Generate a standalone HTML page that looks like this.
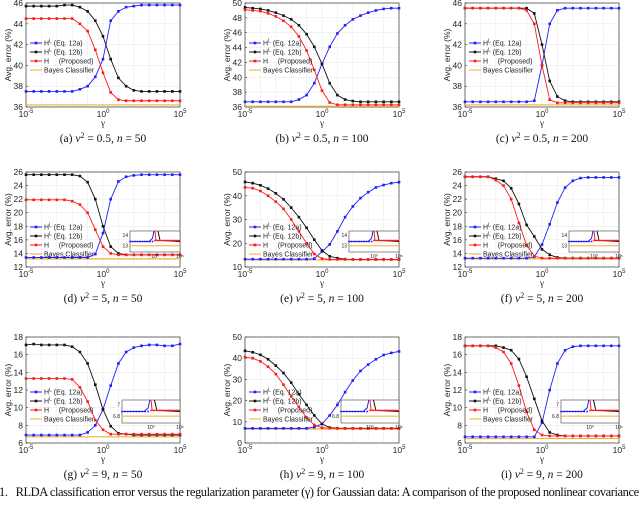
<!DOCTYPE html>
<html><head><meta charset="utf-8"><style>
body{margin:0;width:640px;height:500px;background:#fff;overflow:hidden}
</style></head><body>
<svg id="fig" width="640" height="500" font-family="Liberation Sans, sans-serif" xmlns="http://www.w3.org/2000/svg"></svg>
<script>
const gammaExp=[-5,-4.5,-4,-3.5,-3,-2.5,-2,-1.5,-1,-0.5,0,0.5,1,1.5,2,2.5,3,3.5,4,4.5,5];
const panelNames=["a","b","c","d","e","f","g","h","i"];
const captions=["0.5, n = 50","0.5, n = 100","0.5, n = 200","5, n = 50","5, n = 100","5, n = 200","9, n = 50","9, n = 100","9, n = 200"];
const yMins=[36,36,36,12,10,12,6,0,6];
const yMaxs=[46,50,46,26,50,26,18,50,18];
const yTickSteps=[2,2,2,2,10,2,2,10,2];
const blueA=[37.5,37.5,37.5,37.5,37.5,37.5,37.5,37.7,38.0,38.9,40.6,44.3,45.2,45.6,45.7,45.8,45.8,45.8,45.8,45.8,45.8];
const blackA=[45.7,45.7,45.7,45.7,45.7,45.8,45.8,45.6,45.2,44.3,42.8,40.6,38.8,38.0,37.6,37.5,37.5,37.5,37.5,37.5,37.5];
const redA=[44.5,44.5,44.5,44.5,44.5,44.5,44.5,44.0,43.3,41.5,39.3,37.4,36.7,36.6,36.6,36.6,36.6,36.6,36.6,36.6,36.6];
const blueB=[36.7,36.7,36.7,36.7,36.7,36.7,36.7,37.0,37.6,39.2,41.8,44.1,45.9,47.0,47.8,48.3,48.7,49.0,49.2,49.3,49.3];
const blackB=[49.4,49.3,49.2,49.0,48.7,48.3,47.8,47.0,45.8,44.1,41.8,39.2,37.6,37.0,36.8,36.7,36.7,36.7,36.7,36.7,36.7];
const redB=[49.1,49.0,48.9,48.6,48.2,47.6,46.8,45.5,43.6,41.0,38.2,36.6,36.3,36.3,36.3,36.3,36.3,36.3,36.3,36.3,36.3];
const blueC=[36.5,36.5,36.5,36.5,36.5,36.5,36.5,36.5,36.5,36.6,40.0,44.0,45.3,45.5,45.5,45.5,45.5,45.5,45.5,45.5,45.5];
const blackC=[45.5,45.5,45.5,45.5,45.5,45.5,45.5,45.5,45.5,45.0,42.0,38.5,37.0,36.6,36.5,36.5,36.5,36.5,36.5,36.5,36.5];
const redC=[45.5,45.5,45.5,45.5,45.5,45.5,45.5,45.5,45.3,44.0,40.0,36.7,36.4,36.4,36.4,36.4,36.4,36.4,36.4,36.4,36.4];
const blueD=[13.4,13.4,13.4,13.4,13.4,13.4,13.4,13.4,13.4,13.9,17.0,22.0,24.6,25.3,25.5,25.6,25.6,25.6,25.6,25.6,25.6];
const blackD=[25.6,25.6,25.6,25.6,25.6,25.6,25.6,25.4,24.5,22.0,18.0,15.0,14.0,13.8,13.8,13.8,13.8,13.8,13.8,13.8,13.8];
const redD=[21.9,21.9,21.9,21.9,21.9,21.9,21.7,21.2,20.0,17.5,15.0,14.0,13.8,13.8,13.8,13.8,13.8,13.8,13.8,13.8,13.8];
const blueE=[13.3,13.3,13.3,13.3,13.3,13.3,13.3,13.3,13.3,13.5,16.5,19.5,25.0,31.0,35.5,39.0,41.5,43.5,44.5,45.3,45.7];
const blackE=[45.8,45.3,44.4,43.0,41.0,38.5,35.0,31.0,26.5,21.5,17.0,14.5,13.7,13.3,13.2,13.2,13.2,13.2,13.2,13.2,13.2];
const redE=[43.5,43.2,42.0,40.0,37.5,34.5,30.0,25.0,20.0,15.5,13.5,13.2,13.2,13.2,13.2,13.2,13.2,13.2,13.2,13.2,13.2];
const blueF=[13.3,13.3,13.3,13.3,13.3,13.3,13.3,13.3,13.3,13.5,15.3,18.3,21.5,23.7,24.7,25.1,25.2,25.2,25.2,25.2,25.2];
const blackF=[25.3,25.3,25.3,25.3,25.0,24.7,23.6,21.3,18.2,16.5,14.6,13.8,13.4,13.3,13.3,13.3,13.3,13.3,13.3,13.3,13.3];
const redF=[25.3,25.3,25.3,25.3,24.8,24.0,22.0,18.5,15.2,13.6,13.3,13.3,13.3,13.3,13.3,13.3,13.3,13.3,13.3,13.3,13.3];
const blueG=[6.9,6.9,6.9,6.9,6.9,6.9,6.9,6.9,7.2,8.0,9.8,12.5,15.0,16.3,16.8,17.0,17.1,17.1,17.0,17.0,17.2];
const blackG=[17.1,17.2,17.1,17.1,17.1,17.1,16.9,16.3,15.0,12.6,9.8,7.9,7.1,7.0,6.9,6.9,6.9,6.9,6.9,6.9,6.9];
const redG=[13.3,13.3,13.3,13.3,13.3,13.3,13.2,12.3,10.7,8.6,7.5,7.0,7.0,7.0,7.0,7.0,7.0,7.0,7.0,7.0,7.0];
const blueH=[6.9,6.9,6.9,6.9,6.9,6.9,6.9,6.9,6.9,7.5,9.0,13.0,18.0,24.0,29.5,34.0,37.0,39.5,41.5,42.5,43.2];
const blackH=[43.5,42.8,41.6,39.5,36.5,33.0,28.5,23.0,18.0,13.0,9.0,7.3,7.0,6.9,6.9,6.9,6.9,6.9,6.9,6.9,6.9];
const redH=[40.5,40.0,38.5,36.0,32.5,27.5,22.0,17.0,12.0,8.5,7.2,7.0,6.9,6.9,6.9,6.9,6.9,6.9,6.9,6.9,6.9];
const blueI=[6.7,6.7,6.7,6.7,6.7,6.7,6.7,6.7,6.7,6.7,8.3,12.0,15.0,16.5,16.9,17.0,17.0,17.0,17.0,17.0,17.0];
const blackI=[17.0,17.0,17.0,17.0,17.0,16.8,16.5,15.5,13.5,11.0,8.5,7.2,6.9,6.8,6.8,6.8,6.8,6.8,6.8,6.8,6.8];
const redI=[17.0,17.0,17.0,17.0,16.8,16.3,15.0,12.5,9.5,7.5,6.9,6.8,6.8,6.8,6.8,6.8,6.8,6.8,6.8,6.8,6.8];
const bayes=[36.2,36.1,36.2,13.2,13.0,13.2,6.7,6.6,6.5];
const blues=[blueA,blueB,blueC,blueD,blueE,blueF,blueG,blueH,blueI];
const blacks=[blackA,blackB,blackC,blackD,blackE,blackF,blackG,blackH,blackI];
const reds=[redA,redB,redC,redD,redE,redF,redG,redH,redI];
const hasInset=[false,false,false,true,true,true,true,true,true];

const NS="http://www.w3.org/2000/svg";
const fig=document.getElementById('fig');
function mk(tag,attrs,parent){const e=document.createElementNS(NS,tag);for(const k in attrs)e.setAttribute(k,attrs[k]);(parent||fig).appendChild(e);return e;}
const colX=[[26,180],[245,399],[465,619]];
const rowY=[[3,107],[172,267],[337,443]];
const legendOff=[40,55,55];
const colors={blue:"#1f1fff",black:"#111",red:"#ff1a1a"};
const SERIF="Liberation Serif, serif";

for(let p=0;p<9;p++){
  const c=p%3,r=Math.floor(p/3);
  const L=colX[c][0],R=colX[c][1],T=rowY[r][0],B=rowY[r][1];
  const g=mk('g',{});
  
  
  const xs=v=>L+(v+5)/10*(R-L);
  const ys=v=>B-(v-yMins[p])/(yMaxs[p]-yMins[p])*(B-T);
  mk('rect',{x:L,y:T,width:R-L,height:B-T,fill:'#fff'},g);
  for(let e=-5;e<=5;e++){mk('line',{x1:xs(e),x2:xs(e),y1:T,y2:B,stroke:'#ebebeb','stroke-width':0.6},g);}
  for(let v=yMins[p];v<=yMaxs[p]+1e-9;v+=yTickSteps[p]){
    mk('line',{x1:L,x2:R,y1:ys(v),y2:ys(v),stroke:'#ebebeb','stroke-width':0.6},g);
    mk('line',{x1:L,x2:L+2,y1:ys(v),y2:ys(v),stroke:'#333','stroke-width':0.6},g);
    const t=mk('text',{x:L-3,y:ys(v)+3,'font-size':8.5,'text-anchor':'end',fill:'#222'},g);t.textContent=v;
  }
  mk('rect',{x:L,y:T,width:R-L,height:B-T,fill:'none',stroke:'#333','stroke-width':0.7},g);
  [[-5,"-5"],[0,"0"],[5,"5"]].forEach(([e,s])=>{
    const t=mk('text',{x:xs(e),y:B+10,'font-size':8.5,'text-anchor':'middle',fill:'#222'},g);
    t.innerHTML='10<tspan dy="-4" font-size="6">'+s+'</tspan>';
  });
  const gl=mk('text',{x:(L+R)/2,y:B+19,'font-size':9,'text-anchor':'middle',fill:'#222','font-family':SERIF},g);gl.textContent='γ';
  const yl=mk('text',{x:0,y:0,'font-size':8.5,'text-anchor':'middle',fill:'#222',transform:'translate('+(L-15)+','+((T+B)/2)+') rotate(-90)'},g);
  
  
  yl.textContent='Avg. error (%)';
  const cap=mk('text',{x:(L+R)/2,y:B+35,'font-size':11.5,'text-anchor':'middle',fill:'#111','font-family':SERIF},g);
  
  
  cap.innerHTML='('+panelNames[p]+') <tspan font-style="italic">ν</tspan><tspan dy="-4" font-size="8">2</tspan><tspan dy="4"> = '+captions[p].replace('n =','<tspan font-style="italic">n</tspan> =')+'</tspan>';
  const bl=mk('line',{x1:L,x2:R,y1:ys(bayes[p]),y2:ys(bayes[p]),stroke:'#f0b030','stroke-width':1.2},g);
  
  
  [['blue',blues[p]],['black',blacks[p]],['red',reds[p]]].forEach(([cn,arr])=>{
    const pl=mk('polyline',{points:arr.map((v,i)=>xs(gammaExp[i])+','+ys(v)).join(' '),fill:'none',stroke:colors[cn],'stroke-width':0.9},g);
    
    
    arr.forEach((v,i)=>{
      const m=mk('rect',{x:xs(gammaExp[i])-1.3,y:ys(v)-1.3,width:2.6,height:2.6,fill:colors[cn]},g);
      
      
    });
  });
  const ly=T+legendOff[r];
  const lg=mk('g',{},g);
  
  
  const labels=['H<tspan dy="-3" font-size="5">L</tspan><tspan dy="3"> (Eq. 12a)</tspan>','H<tspan dy="-3" font-size="5">L</tspan><tspan dy="3"> (Eq. 12b)</tspan>','H     (Proposed)','Bayes Classifier'];
  const lc=[colors.blue,colors.black,colors.red,'#f0b030'];
  for(let k=0;k<4;k++){
    const yy=ly+k*9;
    const le=mk('line',{x1:L+4,x2:L+16,y1:yy,y2:yy,stroke:lc[k],'stroke-width':1},lg);
    
    
    if(k<3)mk('rect',{x:L+8.7,y:yy-1.3,width:2.6,height:2.6,fill:lc[k]},lg);
    const t=mk('text',{x:L+18,y:yy+2.5,'font-size':7,fill:'#222'},lg);
    t.setAttribute('style','white-space:pre');
    t.innerHTML=labels[k];
  }
  if(hasInset[p]){
    const iL=R-(r===2?58:50),iR=R,iT=T+(r===2?63:59),iB=iT+(r===2?23:21);
    const ig=mk('g',{},g);
    
    
    mk('rect',{x:iL,y:iT,width:iR-iL,height:iB-iT,fill:'#fff',stroke:'#444','stroke-width':0.6},ig);
    const ix=f=>iL+f*(iR-iL), iy=f=>iB-f*(iB-iT);
    mk('line',{x1:ix(0),x2:ix(1),y1:iy(0.3),y2:iy(0.3),stroke:'#f0b030','stroke-width':1},ig);
    mk('polyline',{points:[ix(0),iy(0.5),ix(0.38),iy(0.5),ix(0.45),iy(0.65),ix(0.48),iy(1)].join(' '),fill:'none',stroke:colors.blue,'stroke-width':1},ig);
    mk('polyline',{points:[ix(0.56),iy(1),ix(0.6),iy(0.55),ix(1),iy(0.5)].join(' '),fill:'none',stroke:colors.black,'stroke-width':1},ig);
    mk('polyline',{points:[ix(0.5),iy(1),ix(0.52),iy(0.55),ix(1),iy(0.55)].join(' '),fill:'none',stroke:colors.red,'stroke-width':1},ig);
    for(let f=0;f<=1;f+=0.05){mk('rect',{x:ix(f)-0.8,y:iy(f<0.45?0.5:0.55)-0.8,width:1.6,height:1.6,fill:f<0.45?colors.blue:colors.red},ig);}
    const t1=mk('text',{x:iL-2,y:iy(0.8)+2,'font-size':5,'text-anchor':'end',fill:'#222'},ig);t1.textContent=(p<6?'14':'7');
    const t2=mk('text',{x:iL-2,y:iy(0.3)+2,'font-size':5,'text-anchor':'end',fill:'#222'},ig);t2.textContent=(p<6?'13':'6.8');
    const t3=mk('text',{x:ix(0.5),y:iB+6,'font-size':5,'text-anchor':'middle',fill:'#222'},ig);t3.textContent='10⁰';
    const t4=mk('text',{x:ix(1),y:iB+6,'font-size':5,'text-anchor':'middle',fill:'#222'},ig);t4.textContent='10⁵';
  }
}
const fc=mk('text',{x:-1,y:496,'font-size':12.5,fill:'#111','font-family':SERIF,textLength:648,lengthAdjust:'spacing'});


fc.setAttribute('style','white-space:pre');
fc.textContent='1.   RLDA classification error versus the regularization parameter (γ) for Gaussian data: A comparison of the proposed nonlinear covariance e';
</script>
</body></html>
